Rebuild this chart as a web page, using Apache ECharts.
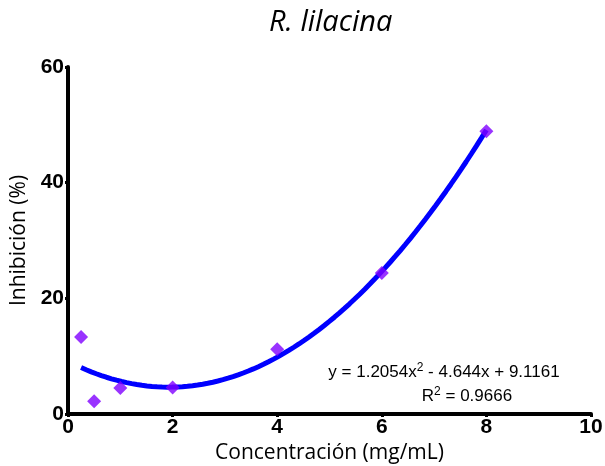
<!DOCTYPE html>
<html>
<head>
<meta charset="utf-8">
<script src="https://cdn.jsdelivr.net/npm/echarts@6/dist/echarts.min.js"></script>
<style>
  html, body { margin: 0; padding: 0; background: #fff; }
  #chart { width: 605px; height: 466px; }
</style>
</head>
<body>
<div id="chart"></div>
<script>
// Measured inhibition at each concentration
const concentrations = [0.25, 0.5, 1, 2, 4, 6, 8];
const inhibition = [13.3, 2.2, 4.5, 4.6, 11.2, 24.4, 48.9];

// Quadratic trend coefficients (a x^2 + b x + c) and fit quality
const fitCoefficients = [1.2054, -4.644, 9.1161];
const fitRange = [0.25, 8];
const rSquared = '0.9666';

const xTicks = [0, 2, 4, 6, 8, 10];
const yTicks = [0, 20, 40, 60];

// Trend line sampled along the fitted polynomial
const trend = [];
const steps = 80;
for (let i = 0; i <= steps; i++) {
  const x = fitRange[0] + (fitRange[1] - fitRange[0]) * i / steps;
  const [a, b, c] = fitCoefficients;
  trend.push([x, a * x * x + b * x + c]);
}

const chart = echarts.init(document.getElementById('chart'));
const axisFont = { color: '#000', fontFamily: 'Liberation Sans, Arial', fontWeight: 'bold', fontSize: 21 };
const eqRich = {
  n: { fontFamily: 'Liberation Sans, Arial', fontSize: 17, color: '#000' },
  s: { fontFamily: 'Liberation Sans, Arial', fontSize: 12, color: '#000', verticalAlign: 'top', padding: [0, 0, 9, 0] }
};

chart.setOption({
  animation: false,
  title: {
    text: 'R. lilacina',
    left: 264,
    top: 3,
    textStyle: { fontFamily: 'Open Sans', fontStyle: 'italic', fontWeight: 'normal', fontSize: 29, color: '#000' }
  },
  grid: { left: 68, right: 14, top: 67, bottom: 52, containLabel: false, outerBoundsMode: 'none' },
  xAxis: {
    type: 'value',
    min: xTicks[0], max: xTicks[xTicks.length - 1], interval: 2,
    name: 'Concentración (mg/mL)',
    nameLocation: 'middle',
    nameGap: 27,
    nameTextStyle: { fontFamily: 'Open Sans', fontSize: 21, color: '#000' },
    axisLine: { lineStyle: { color: '#000', width: 4 } },
    axisTick: { length: 3, lineStyle: { color: '#000', width: 3 } },
    axisLabel: Object.assign({ margin: 3 }, axisFont),
    splitLine: { show: false }
  },
  yAxis: {
    type: 'value',
    min: yTicks[0], max: yTicks[yTicks.length - 1], interval: 20,
    name: 'Inhibición (%)',
    nameLocation: 'middle',
    nameGap: 35,
    nameTextStyle: { fontFamily: 'Open Sans', fontSize: 21, color: '#000' },
    axisLine: { lineStyle: { color: '#000', width: 4 } },
    axisTick: { length: 3, lineStyle: { color: '#000', width: 3 } },
    axisLabel: Object.assign({ margin: 4 }, axisFont),
    splitLine: { show: false }
  },
  series: [
    {
      type: 'line',
      data: trend,
      showSymbol: false,
      smooth: false,
      lineStyle: { color: '#0000ff', width: 5 },
      z: 2
    },
    {
      type: 'scatter',
      data: concentrations.map((x, i) => [x, inhibition[i]]),
      symbol: 'diamond',
      symbolSize: [14, 14],
      itemStyle: { color: '#8000ff' },
      z: 3
    }
  ],
  graphic: [
    {
      type: 'text',
      x: 444, y: 372,
      style: {
        text: '{n|y = 1.2054x}{s|2}{n| - 4.644x + 9.1161}',
        align: 'center', verticalAlign: 'middle',
        rich: eqRich
      }
    },
    {
      type: 'text',
      x: 467, y: 396,
      style: {
        text: '{n|R}{s|2}{n| = ' + rSquared + '}',
        align: 'center', verticalAlign: 'middle',
        rich: eqRich
      }
    }
  ]
});
</script>
</body>
</html>
